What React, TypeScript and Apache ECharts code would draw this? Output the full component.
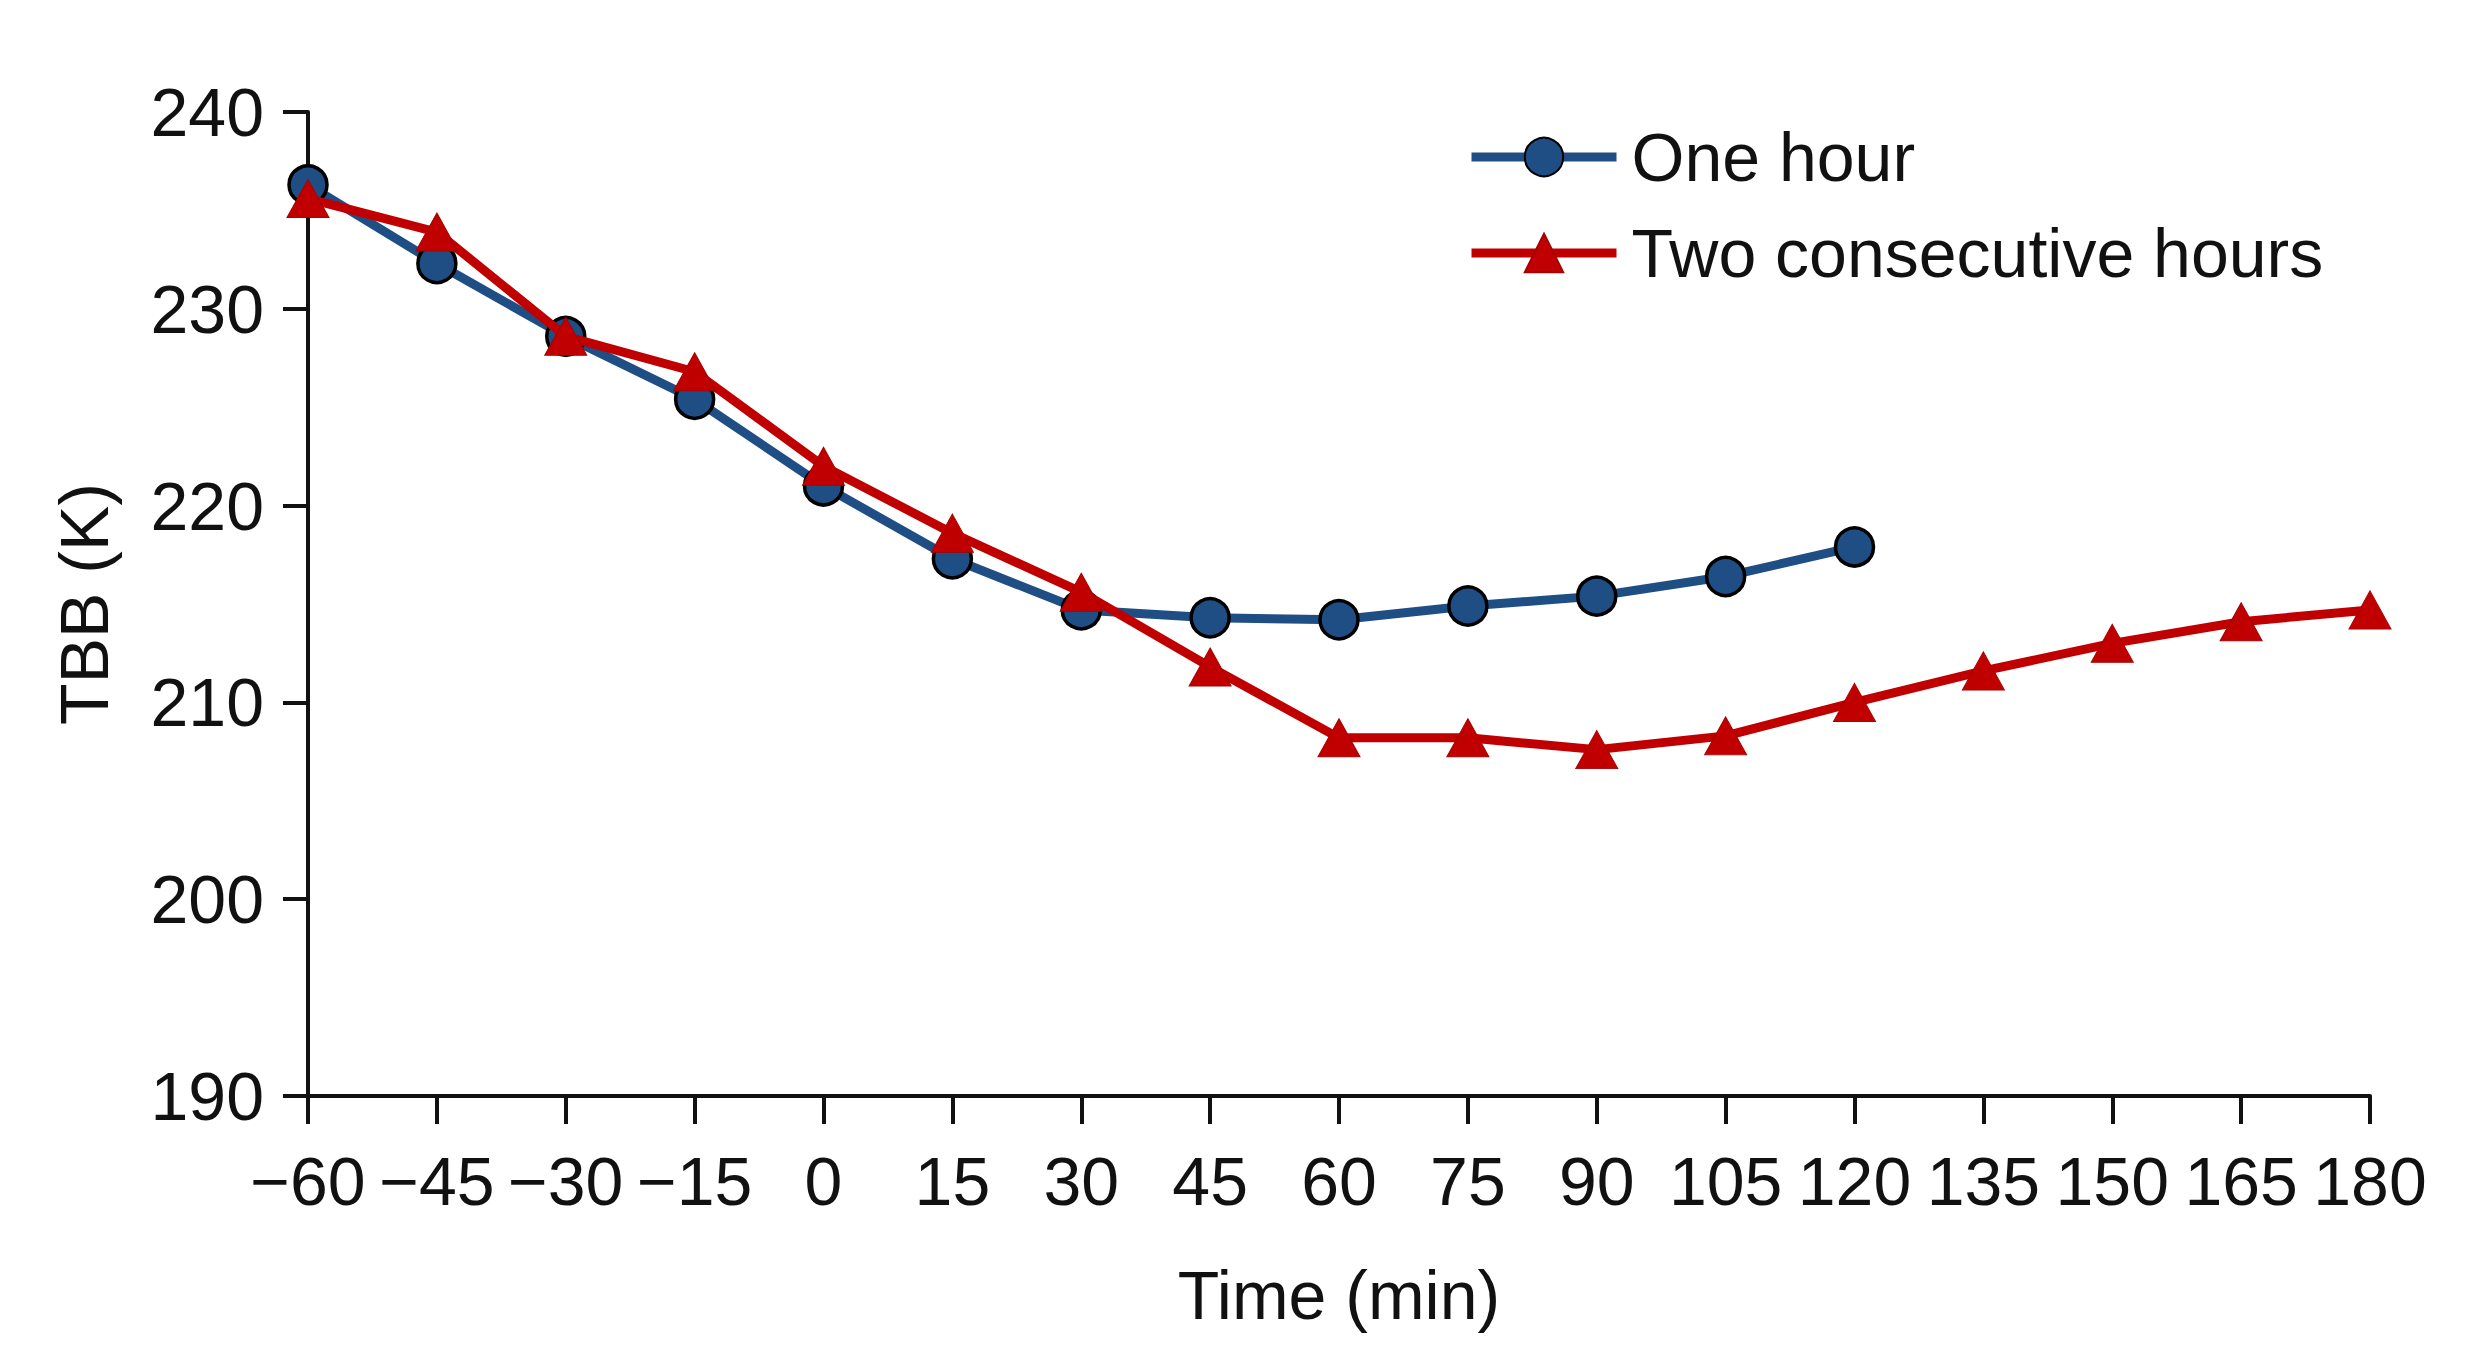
import React, { useEffect, useRef } from "react";
import * as echarts from "echarts";

const times = [-60, -45, -30, -15, 0, 15, 30, 45, 60, 75, 90, 105, 120, 135, 150, 165, 180];
const oneHour = [236.3, 232.3, 228.6, 225.4, 221.0, 217.3, 214.7, 214.3, 214.2, 214.9, 215.4, 216.4, 217.9];
const twoHours = [235.6, 233.9, 228.6, 226.8, 222.0, 218.6, 215.6, 211.8, 208.2, 208.2, 207.6, 208.3, 210.0, 211.6, 213.0, 214.1, 214.7];
const seriesNames = ["One hour", "Two consecutive hours"];
const yTicks = { min: 190, max: 240, interval: 10 };
const xTicks = { min: -60, max: 180, interval: 15 };

const FONT = "'Liberation Sans', Arial, sans-serif";
const FS = 68;

export default function App() {
  const ref = useRef<HTMLDivElement>(null);
  useEffect(() => {
    if (!ref.current) return;
    const chart = echarts.init(ref.current, undefined, { renderer: "svg" });
    const blue = "#1F4E85";
    const red = "#C00000";
    chart.setOption({
      animation: false,
      backgroundColor: "#ffffff",
      textStyle: { fontFamily: FONT },
      grid: { left: 308, top: 112, right: 110, bottom: 270, containLabel: false },
      legend: {
        orient: "vertical",
        left: 1462,
        top: 117,
        itemWidth: 145,
        itemHeight: 48,
        itemGap: 26,
        lineStyle: { width: 9 },
        textStyle: { fontSize: FS, fontFamily: FONT, color: "#111", padding: [0, 0, 0, 10], lineHeight: 70 },
        data: seriesNames,
      },
      xAxis: {
        type: "value",
        min: xTicks.min,
        max: xTicks.max,
        interval: xTicks.interval,
        name: "Time (min)",
        nameLocation: "middle",
        nameGap: 165,
        nameTextStyle: { fontSize: FS, color: "#111", fontFamily: FONT },
        axisLine: { show: true, onZero: false, lineStyle: { color: "#111", width: 4 } },
        axisTick: { show: true, length: 28, lineStyle: { color: "#111", width: 4 } },
        axisLabel: {
          fontSize: FS,
          color: "#111",
          margin: 51,
          fontFamily: FONT,
          formatter: (v: number) => (v < 0 ? "\u2212" + Math.abs(v) : String(v)),
        },
        splitLine: { show: false },
      },
      yAxis: {
        type: "value",
        min: yTicks.min,
        max: yTicks.max,
        interval: yTicks.interval,
        name: "TBB (K)",
        nameLocation: "middle",
        nameGap: 190,
        nameTextStyle: { fontSize: FS, color: "#111", fontFamily: FONT },
        axisLine: { show: true, onZero: false, lineStyle: { color: "#111", width: 4 } },
        axisTick: { show: true, length: 25, lineStyle: { color: "#111", width: 4 } },
        axisLabel: { fontSize: FS, color: "#111", margin: 44, fontFamily: FONT },
        splitLine: { show: false },
      },
      series: [
        {
          name: seriesNames[0],
          type: "line",
          data: oneHour.map((v, i) => [times[i], v]),
          symbol: "circle",
          symbolSize: 38,
          z: 2,
          lineStyle: { color: blue, width: 9 },
          itemStyle: { color: blue, borderColor: "#000", borderWidth: 3.5 },
        },
        {
          name: seriesNames[1],
          type: "line",
          data: twoHours.map((v, i) => [times[i], v]),
          symbol: "triangle",
          symbolSize: [42, 38],
          z: 3,
          lineStyle: { color: red, width: 9 },
          itemStyle: { color: red, borderColor: "#A80000", borderWidth: 1 },
        },
      ],
    });
    return () => chart.dispose();
  }, []);
  return (
    <div
      ref={ref}
      style={{ position: "fixed", left: 0, top: 0, width: 2480, height: 1366, background: "#fff" }}
    />
  );
}
